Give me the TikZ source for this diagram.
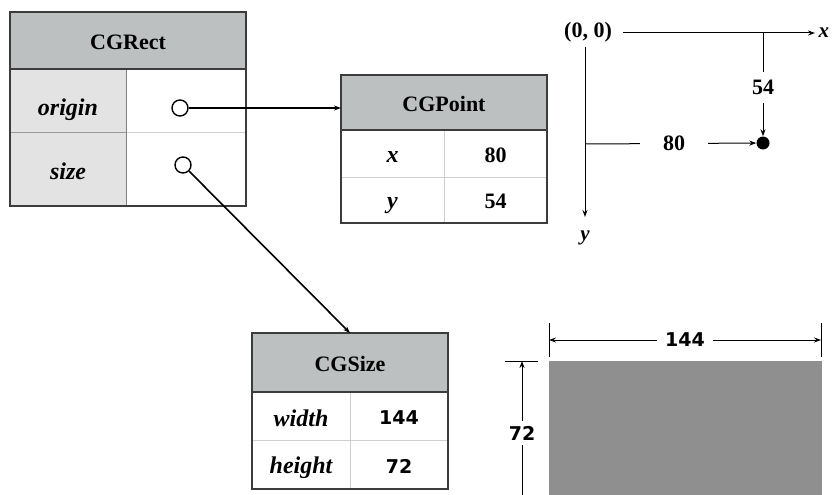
\documentclass[tikz,border=0pt]{standalone}
\usepackage{fontspec}
\setmainfont{Liberation Serif}
\newfontfamily\numsans{DejaVu Sans}
\usetikzlibrary{arrows.meta}

\definecolor{cabec}{HTML}{BDC0C0}
\definecolor{chave}{HTML}{E3E3E3}
\definecolor{borda}{HTML}{3C3C3C}
\definecolor{grade}{HTML}{CFCFCF}
\definecolor{caixa}{HTML}{8F8F8F}

\begin{document}
\begin{tikzpicture}[x=1pt, y=-1pt, >={Stealth[length=7pt,width=5pt]},
    cell/.style={anchor=north west, inner sep=0pt, outer sep=0pt, text height=17pt, text depth=0pt},
    hdr/.style={cell, fill=cabec, font=\fontsize{22}{26}\selectfont\bfseries},
    key/.style={cell, font=\fontsize{24}{28}\selectfont\bfseries\itshape},
    val/.style={cell, font=\fontsize{22}{26}\selectfont\bfseries},
    valsans/.style={cell, font=\fontsize{19}{23}\selectfont\numsans\bfseries},
    frame/.style={draw=borda, line width=1.3pt},
    gridline/.style={draw=grade, line width=1pt},
    ptr/.style={circle, draw, fill=white, line width=1.4pt, minimum size=16pt, inner sep=0pt},
    link/.style={line width=1.6pt},
    lbl/.style={font=\fontsize{22}{26}\selectfont\bfseries, inner sep=0pt},
    numlbl/.style={font=\fontsize{19}{23}\selectfont\numsans\bfseries, inner sep=0pt},
    eixo/.style={line width=1pt},
    cota/.style={line width=1pt}]

    \useasboundingbox (0,0) rectangle (835,495);
    \clip (0,0) rectangle (835,495);

    % 1. Tabela CGRect
    \node[hdr, minimum width=236pt, minimum height=57pt] (cgrect) at (10,12) {CGRect};
    \node[key, fill=chave, text height=29pt, minimum width=116pt, minimum height=63pt] (rectorigin) at (cgrect.south west) {origin};
    \node[cell, minimum width=120pt, minimum height=63pt] (rectoriginval) at (rectorigin.north east) {};
    \node[key, fill=chave, text height=21pt, minimum width=116pt, minimum height=74pt] (rectsize) at (rectorigin.south west) {size};
    \node[cell, minimum width=120pt, minimum height=74pt] (rectsizeval) at (rectsize.north east) {};
    \draw[draw=gray!80, line width=1pt] (rectorigin.south west) -- (rectorigin.south east);
    \draw[gridline] (rectoriginval.south west) -- (rectoriginval.south east);
    \draw[draw=gray, line width=1pt] (rectorigin.north east) -- (rectsize.south east);
    \draw[frame] (cgrect.south west) -- (cgrect.south east);
    \draw[frame] (cgrect.north west) rectangle (rectsizeval.south east);
    \node[ptr] (originptr) at (180,108) {};
    \node[ptr] (sizeptr) at (183,165) {};

    % 2. Tabela CGPoint
    \node[hdr, minimum width=206pt, minimum height=55pt] (cgpoint) at (341,75) {CGPoint};
    \node[key, minimum width=103pt, minimum height=47pt] (pointx) at (cgpoint.south west) {x};
    \node[val, minimum width=103pt, minimum height=47pt] (pointxval) at (pointx.north east) {80};
    \node[key, minimum width=103pt, minimum height=46pt] (pointy) at (pointx.south west) {y};
    \node[val, minimum width=103pt, minimum height=46pt] (pointyval) at (pointy.north east) {54};
    \draw[gridline] (pointx.south west) -- (pointxval.south east);
    \draw[gridline] (pointx.north east) -- (pointy.south east);
    \draw[frame] (cgpoint.south west) -- (cgpoint.south east);
    \draw[frame] (cgpoint.north west) rectangle (pointyval.south east);

    % 3. Tabela CGSize
    \node[hdr, minimum width=196pt, minimum height=59pt] (cgsize) at (252,333) {CGSize};
    \node[key, text height=20pt, minimum width=98pt, minimum height=48pt] (sizew) at (cgsize.south west) {width};
    \node[valsans, minimum width=98pt, minimum height=48pt] (sizewval) at (sizew.north east) {144};
    \node[key, minimum width=98pt, minimum height=49pt] (sizeh) at (sizew.south west) {height};
    \node[valsans, minimum width=98pt, minimum height=49pt] (sizehval) at (sizeh.north east) {72};
    \draw[gridline] (sizew.south west) -- (sizewval.south east);
    \draw[gridline] (sizew.north east) -- (sizeh.south east);
    \draw[frame] (cgsize.south west) -- (cgsize.south east);
    \draw[frame] (cgsize.north west) rectangle (sizehval.south east);

    % 4. Ponteiros
    \draw[link, ->] (originptr) -- (originptr -| cgpoint.west);
    \draw[link, ->] (sizeptr) -- (cgsize.north);

    % 5. Eixos e ponto (80, 54)
    \node[lbl] (origem) at (588,32) {(0, 0)};
    \coordinate (xini) at (623,33);
    \coordinate (xfim) at (815,33);
    \coordinate (yini) at (585,47);
    \coordinate (yfim) at (585,217);
    \draw[eixo, ->] (xini) -- (xfim) node[lbl, font=\fontsize{21}{25}\selectfont\bfseries\itshape, right=3pt] (xlbl) {x};
    \draw[eixo, ->] (yini) -- (yfim) node[lbl, font=\fontsize{21}{25}\selectfont\bfseries\itshape, below=13pt] (ylbl) {y};
    \node[circle, fill=black, minimum size=13pt, inner sep=0pt] (ponto) at (763,143) {};
    \coordinate (x54) at (763,33);
    \coordinate (y80) at (585,144);
    \draw[eixo, ->] (x54) -- node[lbl, fill=white, inner ysep=8pt, pos=.53] (l54) {54} (ponto);
    \draw[eixo, ->] (y80) -- node[lbl, fill=white, inner xsep=23pt, pos=.52] (l80) {80} (ponto);

    % 6. Retangulo 144 x 72 com cotas
    \node[anchor=north west, fill=caixa, minimum width=273pt, minimum height=140pt, inner sep=0pt] (caixa) at (549,361) {};
    \draw[cota] ([yshift=4pt]caixa.north west) -- ++(0,-34);
    \draw[cota] ([yshift=4pt,xshift=-1pt]caixa.north east) -- ++(0,-34);
    \coordinate (wesq) at (549,340);
    \coordinate (wdir) at (821,340);
    \draw[cota, <->] (wesq) -- node[numlbl, fill=white, inner xsep=8pt] (l144) {144} (wdir);
    \draw[cota] ([xshift=-11pt]caixa.north west) -- ++(-33,0);
    \coordinate (htop) at (522,361);
    \coordinate (hbot) at (522,505);
    \draw[cota, <->] (htop) -- node[numlbl, fill=white, inner ysep=5pt, pos=.5] (l72) {72} (hbot);

\end{tikzpicture}
\end{document}
